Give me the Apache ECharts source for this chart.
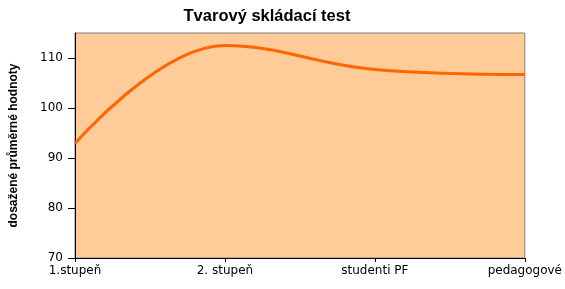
<!DOCTYPE html>
<html><head><meta charset="utf-8">
<script src="https://cdn.jsdelivr.net/npm/echarts@6/dist/echarts.min.js"></script>
<style>html,body{margin:0;padding:0;background:#fff}#c{width:565px;height:289px}</style>
</head><body><div id="c"></div>
<script>
const categories = ['1.stupeň', '2. stupeň', 'studenti PF', 'pedagogové'];
const values = [92.9, 112.5, 107.7, 106.7];
const yTicks = [70, 80, 90, 100, 110];
const titleText = 'Tvarový skládací test';
const yName = 'dosažené průměrné hodnoty';

const chart = echarts.init(document.getElementById('c'));
chart.setOption({
  animation: false,
  title: {text: titleText, left: 262, top: 3, textAlign: 'center',
    textStyle: {fontFamily: 'Liberation Sans, Arial', fontWeight: 'bold', fontSize: 16.5, color: '#000'}},
  grid: {left: 75, right: 38, top: 33, bottom: 31, show: true, backgroundColor: '#FFCC99', borderColor: '#808080', borderWidth: 1},
  xAxis: {type: 'category', data: categories, boundaryGap: false,
    axisLine: {lineStyle: {color: '#000', width: 1}},
    axisTick: {show: true, alignWithLabel: true, length: 4, lineStyle: {color: '#000'}},
    axisLabel: {color: '#000', fontFamily: 'DejaVu Sans, Verdana', fontSize: 12, margin: 7, interval: 0},
    splitLine: {show: false}},
  yAxis: {type: 'value', min: 70, max: 115, interval: 10,
    name: yName, nameLocation: 'middle', nameRotate: 90, nameGap: 55,
    nameTextStyle: {fontFamily: 'Liberation Sans, Arial', fontWeight: 'bold', fontSize: 12, color: '#000'},
    axisLine: {show: true, lineStyle: {color: '#000', width: 1}},
    axisTick: {show: true, length: 7, lineStyle: {color: '#000'}, customValues: yTicks},
    axisLabel: {color: '#000', fontFamily: 'DejaVu Sans, Verdana', fontSize: 12, margin: 12, customValues: yTicks},
    splitLine: {show: false}},
  series: [{type: 'line', data: values, smooth: 0.4, symbol: 'none',
    lineStyle: {color: '#FF6600', width: 3}}]
});
</script></body></html>
